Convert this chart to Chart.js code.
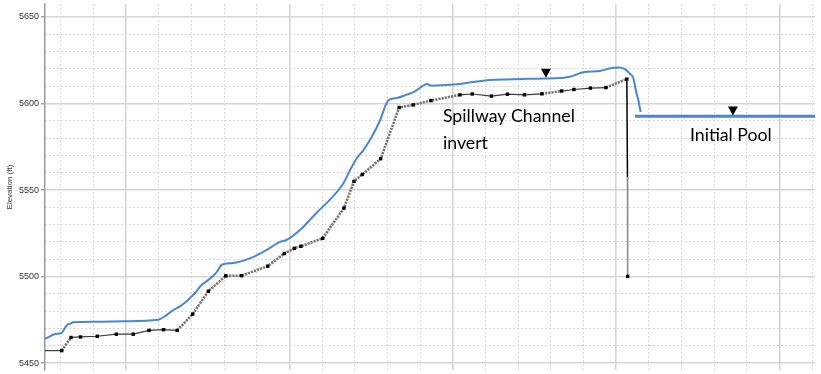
<!DOCTYPE html>
<html><head><meta charset="utf-8">
<script src="https://cdn.jsdelivr.net/npm/chart.js@4.4.1/dist/chart.umd.min.js"></script>
<style>html,body{margin:0;padding:0;background:#fff;}#wrap{width:821px;height:374px;position:relative;}</style>
</head><body><div id="wrap"><canvas id="c"></canvas></div>
<script>
// ---- data (station in ft, elevation in ft) ----
const invertStation = [-248,-196.8,-168.3,-139.2,-88.1,-29.7,22.0,70.4,114.8,156.7,204.1,251.9,305.1,353.5,433.7,484.5,515.1,535.6,602.0,667.2,697.8,723.2,779.5,836.1,879.2,933.4,1022.2,1059.8,1118.6,1167.5,1219.6,1273.1,1333.4,1371.1,1421.6,1469.0,1533,1535,1535.5];
const invertElev = [5457.2,5457.2,5464.8,5465.1,5465.5,5466.7,5466.7,5468.9,5469.3,5468.9,5478.3,5491.5,5500.4,5500.5,5506.0,5513.3,5516.3,5517.5,5522.1,5539.6,5555.0,5559.0,5568.1,5597.7,5599.2,5601.7,5605.0,5605.5,5604.3,5605.4,5605.0,5605.6,5607.2,5608.1,5608.9,5609.2,5614.1,5557.4,5500.1];
const wsStation = [-248,-232.6,-217.3,-196.8,-186.7,-178.4,-171.4,-161.3,-94.9,-8.3,98.9,119.4,139.9,165.3,185.8,201.1,211.2,231.7,241.8,267.2,278.5,292.9,328.4,388.7,430.6,471.3,491.8,532.5,583.6,634.4,665.0,685.5,706.0,726.2,751.9,777.4,802.7,828.5,859.0,884.5,905.0,920.3,935.6,971.1,1022.2,1062.9,1114.0,1215.9,1282.3,1318.1,1358.8,1399.5,1450.6,1491.3,1508.8,1527.1,1542.4,1552.5,1560.8,1568.5,1575.2];
const wsElev = [5464.1,5465.4,5466.8,5467.5,5470.4,5472.3,5472.7,5473.6,5473.9,5474.2,5475.1,5477.1,5480.0,5482.8,5485.7,5488.6,5490.5,5495.3,5496.6,5500.5,5502.8,5506.8,5507.8,5511.2,5515.4,5520.0,5521.2,5526.9,5536.9,5546.5,5553.8,5561.4,5568.2,5572.9,5580.6,5590.2,5601.7,5603.2,5605.1,5607.0,5609.7,5611.3,5610.3,5610.6,5611.3,5612.4,5613.6,5614.2,5614.5,5614.6,5615.5,5618.0,5618.8,5620.7,5620.8,5619.9,5617.2,5614.9,5607.4,5601.7,5595.0];
const poolStation = [1557.7, 2109];
const poolElev = [5592.7, 5592.7];
const wsMarkStation = [1285.4, 1857.7];
const wsMarkElev = [5614.9, 5593.0];
const yMajorTicks = [5450, 5500, 5550, 5600, 5650];
const yMinorTicks = [5460,5470,5480,5490,5510,5520,5530,5540,5560,5570,5580,5590,5610,5620,5630,5640];
const xMajorTicks = [0, 500, 1000, 1500, 2000];
const xMinorTicks = [-200,-100,100,200,300,400,600,700,800,900,1100,1200,1300,1400,1600,1700,1800,1900,2100];
const noteTexts = ['Spillway Channel', 'invert', 'Initial Pool'];
const noteStation = [970.1, 970.1, 1726.1];
const noteElev = [5589.2, 5573.9, 5578.3];

const X_MIN = -248, X_MAX = 2109, Y_MIN = 5446, Y_MAX = 5657.5;
const toXY = (xs, ys) => xs.map((x, i) => ({x, y: ys[i]}));

// segments of the invert drawn as interpolated (grey dotted) reaches
const interpSeg = new Set([1,9,10,11,12,13,14,15,16,17,18,19,20,21,22,23,24,25,31,35]);
const segColor = ctx => {
  const i = ctx.p0DataIndex;
  if (i === 36) return '#000000';
  if (i === 37) return '#8a8a8a';
  return interpSeg.has(i) ? '#767676' : '#3c3c3c';
};
const segWidth = ctx => {
  const i = ctx.p0DataIndex;
  if (i >= 36) return 1.5;
  return interpSeg.has(i) ? 2.6 : 1.2;
};
const segDash = ctx => {
  const i = ctx.p0DataIndex;
  if (i >= 36) return [];
  return interpSeg.has(i) ? [2.2, 1] : [];
};

const fixTicks = list => scale => { scale.ticks = list.map(v => ({value: v})); };

const annot = {
  id: 'annot',
  afterDatasetsDraw(chart) {
    const {ctx, scales} = chart;
    const xs = scales.x, ys = scales.y;
    ctx.save();
    ctx.fillStyle = '#000';
    wsMarkStation.forEach((s, i) => {
      const px = xs.getPixelForValue(s), py = ys.getPixelForValue(wsMarkElev[i]);
      ctx.beginPath();
      ctx.moveTo(px, py);
      ctx.lineTo(px - 5, py - 9);
      ctx.lineTo(px + 5, py - 9);
      ctx.closePath();
      ctx.fill();
    });
    ctx.font = '100px Lato';
    const base = ctx.measureText('Spillway Channel').width;
    const size = 100 * 132 / base;
    ctx.font = size.toFixed(2) + 'px Lato';
    ctx.fillStyle = '#000';
    ctx.textBaseline = 'alphabetic';
    ctx.textAlign = 'left';
    noteTexts.forEach((t, i) => {
      ctx.fillText(t, xs.getPixelForValue(noteStation[i]), ys.getPixelForValue(noteElev[i]));
    });
    ctx.restore();
  }
};

new Chart(document.getElementById('c'), {
  type: 'line',
  data: {
    datasets: [
      {label: 'Water Surface', data: toXY(wsStation, wsElev), borderColor: '#4a86d4', borderWidth: 2,
       pointRadius: 0, cubicInterpolationMode: 'monotone', order: 2},
      {label: 'Initial Pool', data: toXY(poolStation, poolElev), borderColor: '#4a86d4', borderWidth: 3,
       pointRadius: 0, order: 2},
      {label: 'Channel Invert', data: toXY(invertStation, invertElev), borderColor: '#3c3c3c', borderWidth: 1.2,
       pointStyle: 'rect', pointRadius: ctx => (ctx.dataIndex === 0 || ctx.dataIndex === 37) ? 0 : 2.4,
       pointBackgroundColor: '#000', pointBorderWidth: 0, tension: 0, order: 1,
       segment: {borderColor: segColor, borderWidth: segWidth, borderDash: segDash}}
    ]
  },
  options: {
    responsive: true, maintainAspectRatio: false, animation: false, devicePixelRatio: 1,
    layout: {padding: {left: 0, top: 3, right: 6, bottom: 3}},
    plugins: {legend: {display: false}, tooltip: {enabled: false}},
    scales: {
      x: {type: 'linear', min: X_MIN, max: X_MAX, position: 'bottom',
          ticks: {display: false}, border: {display: false},
          grid: {color: '#d6d6d6', lineWidth: 1.6, drawTicks: false},
          afterBuildTicks: fixTicks(xMajorTicks), afterFit: s => { s.height = 0; s.paddingLeft = 0; s.paddingRight = 0; }},
      xMinor: {type: 'linear', min: X_MIN, max: X_MAX, position: 'bottom',
          ticks: {display: false}, border: {display: false, dash: [2, 2]},
          grid: {color: '#d9d9d9', lineWidth: 1, drawTicks: false},
          afterBuildTicks: fixTicks(xMinorTicks), afterFit: s => { s.height = 0; s.paddingLeft = 0; s.paddingRight = 0; }},
      y: {type: 'linear', min: Y_MIN, max: Y_MAX, position: 'left',
          ticks: {color: '#333', font: {family: '"Liberation Sans Narrow", "Liberation Sans", Arial', size: 9}, padding: 2,
                  callback: v => String(v)},
          border: {display: true, color: '#9a9a9a', width: 1.5},
          grid: {color: '#d6d6d6', lineWidth: 1.6, tickLength: 4, tickColor: '#777', tickWidth: 1},
          title: {display: true, text: 'Elevation (ft)', color: '#333',
                  font: {family: '"Liberation Sans", Arial', size: 8}, padding: {top: 5, bottom: 0}},
          afterBuildTicks: fixTicks(yMajorTicks),
          afterFit: s => { s.width = 45; s.paddingTop = 0; s.paddingBottom = 0; }},
      yMinor: {type: 'linear', min: Y_MIN, max: Y_MAX, position: 'left',
          ticks: {display: false}, border: {display: false, dash: [2, 2]},
          grid: {color: '#d9d9d9', lineWidth: 1, drawTicks: false},
          afterBuildTicks: fixTicks(yMinorTicks), afterFit: s => { s.width = 0; s.paddingTop = 0; s.paddingBottom = 0; }}
    }
  },
  plugins: [annot]
});
</script></body></html>
